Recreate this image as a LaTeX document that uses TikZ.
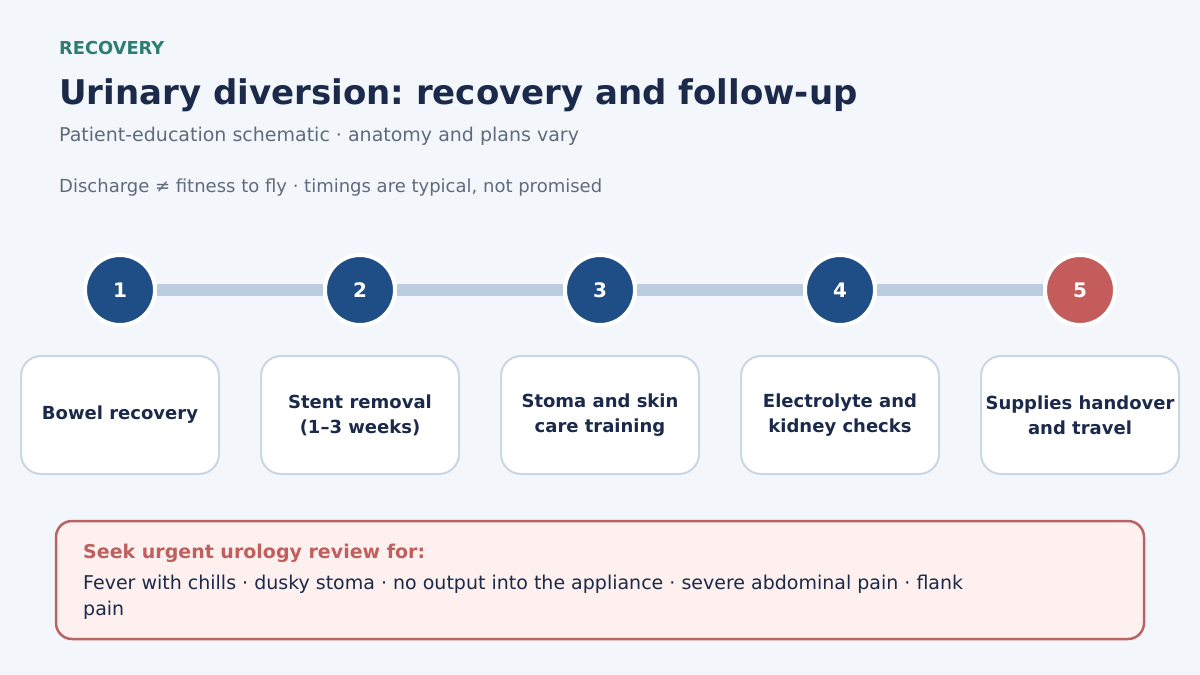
\documentclass[tikz,border=0pt]{standalone}
\usepackage{fontspec}
\setmainfont{DejaVu Sans}
\frenchspacing
\definecolor{bgcol}{HTML}{F3F7FB}
\definecolor{navy}{HTML}{1B2A4A}
\definecolor{teal}{HTML}{2E7D72}
\definecolor{greytxt}{HTML}{5F6B7C}
\definecolor{stepblue}{HTML}{1F4E87}
\definecolor{stepred}{HTML}{C45C5C}
\definecolor{barcol}{HTML}{BCCDDF}
\definecolor{boxline}{HTML}{C9D6E3}
\definecolor{alertfill}{HTML}{FDF0EE}
\definecolor{alertline}{HTML}{B96464}
\definecolor{alerttxt}{HTML}{C0605E}
\tikzset{
  stepdot/.style={circle, fill=stepblue, draw=white, line width=4pt, minimum size=70pt, inner sep=0pt,
    text=white, font=\fontsize{20}{22}\selectfont\bfseries},
  stagebox/.style={draw=boxline, line width=2pt, fill=white, rounded corners=20pt,
    minimum width=198pt, minimum height=118pt, align=center, text=navy,
    font=\fontsize{18}{25}\selectfont\bfseries},
  bar/.style={barcol, line width=12pt},
  txt/.style={inner sep=0pt, anchor=base west}
}
\begin{document}
\begin{tikzpicture}[x=1pt, y=-1pt]
\fill[bgcol] (0,0) rectangle (1200,675);
\useasboundingbox (0,0) rectangle (1200,675);
% header
\node[txt, text=teal, font=\fontsize{17.8}{20}\selectfont\bfseries](kicker) at (59,54){RECOVERY};
\node[txt, text=navy, font=\fontsize{34}{38}\selectfont\bfseries](title) at (59,104){Urinary diversion: recovery and follow-up};
\node[txt, text=greytxt, font=\fontsize{19}{22}\selectfont](sub) at (59,141){Patient-education schematic · anatomy and plans vary};
\node[txt, text=greytxt, font=\fontsize{18}{20}\selectfont](note) at (59,192){Discharge ≠ fitness to fly · timings are typical, not promised};
% steps
\node[stepdot](S1) at (120,290){1};
\node[stepdot](S2) at (360,290){2};
\node[stepdot](S3) at (600,290){3};
\node[stepdot](S4) at (840,290){4};
\node[stepdot, fill=stepred](S5) at (1080,290){5};
\draw[bar] (S1) -- (S2);
\draw[bar] (S2) -- (S3);
\draw[bar] (S3) -- (S4);
\draw[bar] (S4) -- (S5);
% stages
\node[stagebox](B1) at (120,415){Bowel recovery};
\node[stagebox](B2) at (360,415){Stent removal\\(1–3 weeks)};
\node[stagebox](B3) at (600,415){Stoma and skin\\care training};
\node[stagebox](B4) at (840,415){Electrolyte and\\kidney checks};
\node[stagebox](B5) at (1080,415){Supplies handover\\and travel};
% warning
\node[draw=alertline, line width=2.5pt, fill=alertfill, rounded corners=16pt,
  minimum width=1088pt, minimum height=118pt](alert) at (600,580){};
\node[txt, text=alerttxt, font=\fontsize{19}{22}\selectfont\bfseries](alerthead) at (83,558){Seek urgent urology review for:};
\node[inner sep=0pt, anchor=north west, text=navy, align=left, font=\fontsize{19}{26}\selectfont](alertbody) at (83,575){Fever with chills · dusky stoma · no output into the appliance · severe abdominal pain · flank\\pain};
\end{tikzpicture}
\end{document}
